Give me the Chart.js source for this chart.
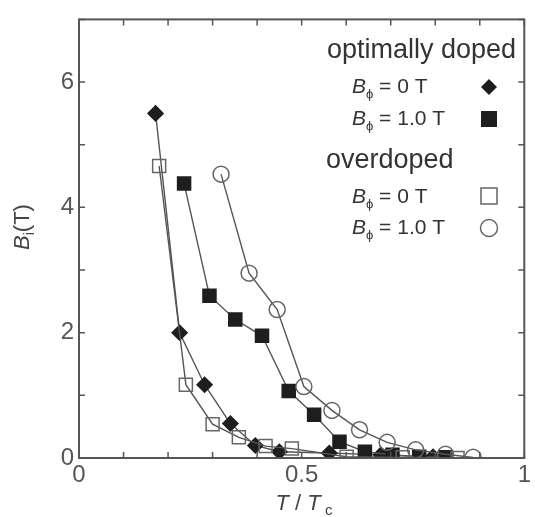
<!DOCTYPE html>
<html>
<head>
<meta charset="utf-8">
<script src="https://cdn.jsdelivr.net/npm/chart.js@4/dist/chart.umd.min.js"></script>
<style>
  html, body { margin: 0; padding: 0; background: #fff; }
  #wrap { width: 535px; height: 517px; }
</style>
</head>
<body>
<div id="wrap"><canvas id="chart"></canvas></div>
<script>
// optimally doped, B_phi = 0 T (filled diamonds)
const optZeroT = [0.172, 0.226, 0.282, 0.340, 0.396, 0.450, 0.562, 0.678, 0.795];
const optZeroB = [5.50, 2.00, 1.17, 0.55, 0.20, 0.10, 0.08, 0.05, 0.02];
// optimally doped, B_phi = 1.0 T (filled squares)
const optOneT = [0.236, 0.293, 0.351, 0.411, 0.471, 0.528, 0.585, 0.642, 0.704, 0.764, 0.823];
const optOneB = [4.38, 2.59, 2.21, 1.95, 1.07, 0.69, 0.26, 0.10, 0.05, 0.02, 0.01];
// overdoped, B_phi = 0 T (open squares)
const overZeroT = [0.180, 0.240, 0.300, 0.359, 0.419, 0.478, 0.601, 0.727, 0.850];
const overZeroB = [4.66, 1.17, 0.54, 0.33, 0.19, 0.15, 0.02, 0.01, 0.0];
// overdoped, B_phi = 1.0 T (open circles)
const overOneT = [0.319, 0.382, 0.445, 0.505, 0.568, 0.630, 0.692, 0.756, 0.823, 0.885];
const overOneB = [4.53, 2.95, 2.37, 1.14, 0.76, 0.45, 0.25, 0.13, 0.06, 0.01];

const xTickLabels = ["0", "0.5", "1"];
const yTickLabels = ["0", "2", "4", "6"];

const INK = "#555";
const FILL = "#1e1e1e";
const FONT = "'Liberation Sans', Arial, sans-serif";

function pts(xs, ys) {
  return xs.map((x, i) => ({ x: x, y: ys[i] }));
}

function richText(ctx, parts, x, y, align) {
  let total = 0;
  parts.forEach((p) => { ctx.font = p.font; total += ctx.measureText(p.t).width; });
  let cx = align === "center" ? x - total / 2 : x;
  parts.forEach((p) => {
    ctx.font = p.font;
    ctx.fillText(p.t, cx, y + (p.dy || 0));
    cx += ctx.measureText(p.t).width;
  });
}

function marker(ctx, kind, x, y) {
  ctx.beginPath();
  if (kind === "diamond") {
    ctx.moveTo(x - 8, y); ctx.lineTo(x, y - 8); ctx.lineTo(x + 8, y); ctx.lineTo(x, y + 8);
    ctx.closePath(); ctx.fillStyle = FILL; ctx.fill();
  } else if (kind === "square") {
    ctx.rect(x - 8, y - 8, 16, 16); ctx.fillStyle = FILL; ctx.fill();
  } else if (kind === "open") {
    ctx.rect(x - 8, y - 8, 16, 16); ctx.strokeStyle = "#666"; ctx.lineWidth = 1.5; ctx.stroke();
  } else {
    ctx.arc(x, y, 8.5, 0, Math.PI * 2); ctx.strokeStyle = "#666"; ctx.lineWidth = 1.5; ctx.stroke();
  }
}

const frame = {
  id: "frame",
  afterDraw(chart) {
    const { ctx, chartArea: a, scales } = chart;
    ctx.save();
    ctx.strokeStyle = INK;
    ctx.lineWidth = 1.5;
    scales.x.ticks.forEach((t) => {
      const px = scales.x.getPixelForValue(t.value);
      ctx.beginPath();
      ctx.moveTo(px, a.bottom); ctx.lineTo(px, a.bottom - 6);
      ctx.moveTo(px, a.top); ctx.lineTo(px, a.top + 6);
      ctx.stroke();
    });
    scales.y.ticks.forEach((t) => {
      const py = scales.y.getPixelForValue(t.value);
      ctx.beginPath();
      ctx.moveTo(a.left, py); ctx.lineTo(a.left + 6, py);
      ctx.moveTo(a.right, py); ctx.lineTo(a.right - 6, py);
      ctx.stroke();
    });
    ctx.lineWidth = 2;
    ctx.strokeRect(a.left, a.top, a.right - a.left, a.bottom - a.top);

    // axis titles
    ctx.fillStyle = "#444";
    ctx.textBaseline = "alphabetic";
    ctx.textAlign = "left";
    richText(ctx, [
      { t: "T", font: "italic 22px " + FONT },
      { t: " / ", font: "22px " + FONT },
      { t: "T", font: "italic 22px " + FONT },
      { t: " c", font: "15px " + FONT, dy: 5 },
    ], 304, 510, "center");

    ctx.save();
    ctx.translate(29, 227);
    ctx.rotate(-Math.PI / 2);
    richText(ctx, [
      { t: "B", font: "italic 22px " + FONT },
      { t: "i", font: "14px " + FONT, dy: 5 },
      { t: "(T)", font: "22px " + FONT },
    ], 0, 0, "center");
    ctx.restore();

    // legend
    ctx.fillStyle = "#333";
    ctx.font = "27px " + FONT;
    ctx.fillText("optimally doped", 327, 58);
    ctx.fillText("overdoped", 326, 168);
    const rows = [
      { y: 93, v: "0 T", m: "diamond", my: 87 },
      { y: 125, v: "1.0 T", m: "square", my: 119 },
      { y: 203, v: "0 T", m: "open", my: 196 },
      { y: 234, v: "1.0 T", m: "circle", my: 228 },
    ];
    rows.forEach((r) => {
      ctx.fillStyle = "#333";
      richText(ctx, [
        { t: "B", font: "italic 21px " + FONT },
        { t: "\u03d5", font: "13px " + FONT, dy: 5 },
        { t: " = " + r.v, font: "21px " + FONT },
      ], 352, r.y, "left");
      marker(ctx, r.m, 489, r.my);
    });
    ctx.restore();
  },
};

function series(label, data, style, radius, filled) {
  return {
    label: label,
    data: data,
    borderColor: INK,
    borderWidth: 1.4,
    pointStyle: style,
    pointRadius: radius,
    pointBorderWidth: 1.5,
    pointBorderColor: filled ? FILL : "#666",
    pointBackgroundColor: filled ? FILL : "rgba(0,0,0,0)",
    fill: false,
    tension: 0,
  };
}

new Chart(document.getElementById("chart"), {
  type: "line",
  data: {
    datasets: [
      series("overdoped 1.0 T", pts(overOneT, overOneB), "circle", 8, false),
      series("overdoped 0 T", pts(overZeroT, overZeroB), "rect", 9.2, false),
      series("optimally doped 1.0 T", pts(optOneT, optOneB), "rect", 9.2, true),
      series("optimally doped 0 T", pts(optZeroT, optZeroB), "rectRot", 7.5, true),
    ],
  },
  options: {
    responsive: true,
    maintainAspectRatio: false,
    animation: false,
    events: [],
    layout: { padding: { top: 10, right: 8, left: 0, bottom: 0 } },
    plugins: { legend: { display: false }, tooltip: { enabled: false } },
    scales: {
      x: {
        type: "linear",
        min: 0,
        max: 1,
        afterFit: (s) => { s.height = 59; },
        grid: { display: false, drawTicks: false },
        border: { display: false },
        ticks: {
          stepSize: 0.1,
          padding: 3,
          color: INK,
          font: { size: 24, family: FONT },
          maxRotation: 0,
          autoSkip: false,
          callback: (v) => {
            const i = [0, 0.5, 1].findIndex((t) => Math.abs(t - v) < 1e-6);
            return i >= 0 ? xTickLabels[i] : "";
          },
        },
      },
      y: {
        type: "linear",
        min: 0,
        max: 7,
        afterFit: (s) => { s.width = 79; },
        grid: { display: false, drawTicks: false },
        border: { display: false },
        ticks: {
          stepSize: 1,
          padding: 5,
          color: INK,
          font: { size: 24, family: FONT },
          callback: (v) => {
            const i = [0, 2, 4, 6].indexOf(v);
            return i >= 0 ? yTickLabels[i] : "";
          },
        },
      },
    },
  },
  plugins: [frame],
});
</script>
</body>
</html>
